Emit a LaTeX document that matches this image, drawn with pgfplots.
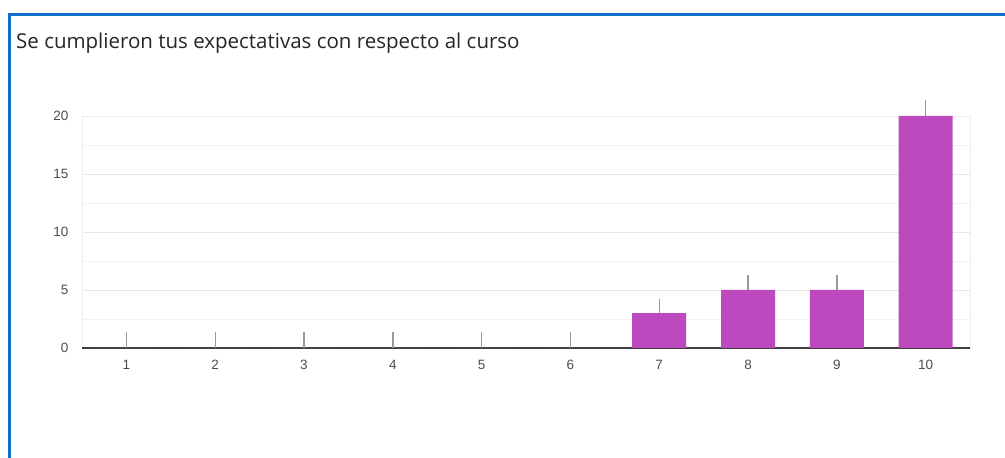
\documentclass[border=0pt]{standalone}
\usepackage{fontspec}
\setmainfont{Liberation Sans}
\newfontfamily\titlefont{Open Sans}
\usepackage{pgfplots}
\pgfplotsset{compat=1.18}
\definecolor{barc}{RGB}{189,73,191}
\definecolor{frameblue}{RGB}{16,112,200}
\begin{document}
\begin{tikzpicture}[x=1pt,y=1pt]
\useasboundingbox[fill=white] (0pt,0pt) rectangle (1005pt,458pt);
\draw[frameblue, line width=3.5pt] (9.5pt,-2pt) -- (9.5pt,443.5pt) -- (1007pt,443.5pt);
\node[anchor=base west, inner sep=0pt, font=\titlefont\fontsize{20.5}{24}\selectfont, text=black!85] at (16pt,409pt) {Se cumplieron tus expectativas con respecto al curso};
\begin{axis}[at={(82pt,110pt)}, anchor=south west, scale only axis, width=888pt, height=232pt,
  xmin=0.5, xmax=10.5, ymin=0, ymax=20,
  ytick={0,5,10,15,20}, minor ytick={2.5,7.5,12.5,17.5},
  xtick={1,...,10},
  ymajorgrids, yminorgrids,
  major grid style={draw=black!9, line width=0.8pt},
  minor grid style={draw=black!5, line width=0.8pt},
  axis line style={draw=black!7, line width=0.8pt},
  major tick length=0pt, minor tick length=0pt,
  extra y ticks={0}, extra y tick labels={},
  extra y tick style={grid=major, major grid style={draw=black!75, line width=1.3pt}},
  /pgf/number format/assume math mode=true,
  ticklabel style={font=\fontsize{13.5}{15}\selectfont, text=black!70},
  yticklabel style={xshift=-10pt},
  xticklabel style={yshift=-9pt},
  clip=false,
]
\addplot[ybar, bar width=54pt, fill=barc, draw=none,
  error bars/.cd, y dir=plus, y explicit,
  error bar style={black!40, line width=1.4pt}, error mark=none]
  coordinates {
  (1,0) +- (0,1.35)
  (2,0) +- (0,1.35)
  (3,0) +- (0,1.35)
  (4,0) +- (0,1.35)
  (5,0) +- (0,1.35)
  (6,0) +- (0,1.35)
  (7,3) +- (0,1.2)
  (8,5) +- (0,1.3)
  (9,5) +- (0,1.3)
  (10,20) +- (0,1.35)
  };
\end{axis}
\end{tikzpicture}
\end{document}
